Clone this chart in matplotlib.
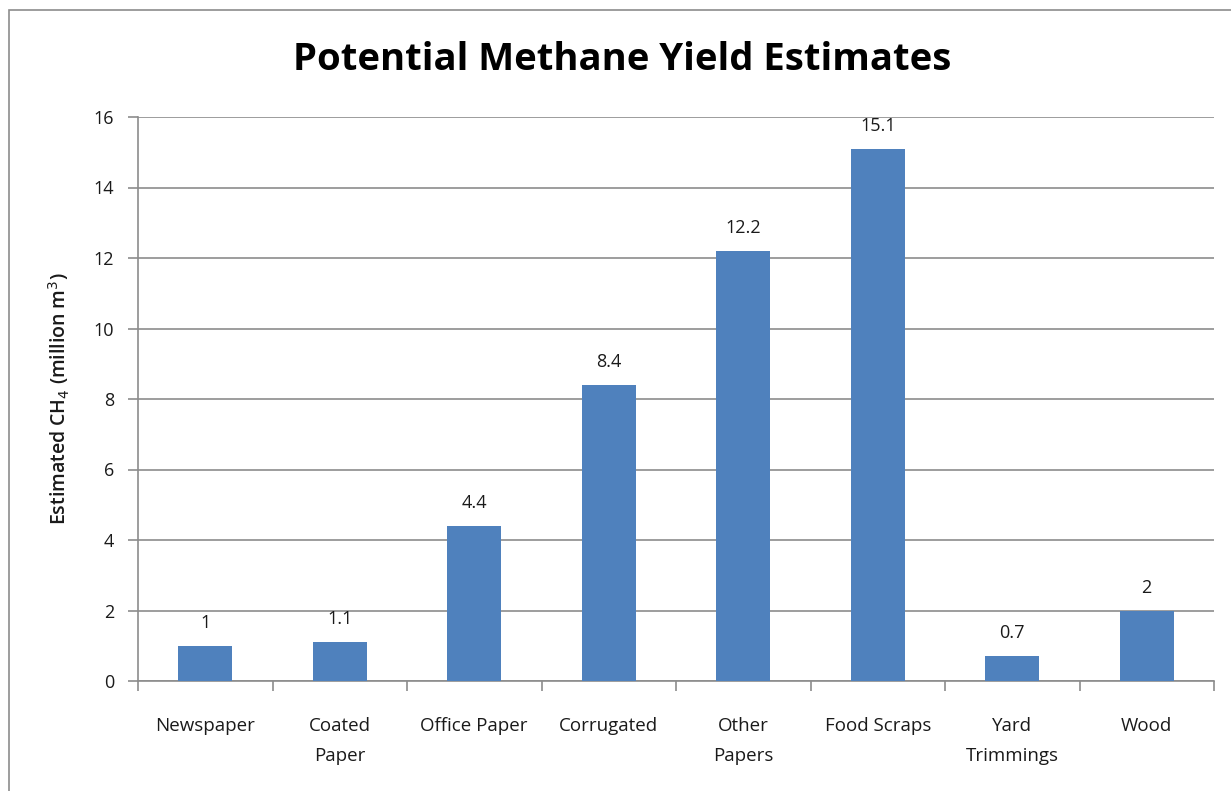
import matplotlib
matplotlib.use("Agg")
import matplotlib.pyplot as plt
from matplotlib.patches import Rectangle
import numpy as np

categories = ["Newspaper", "Coated\nPaper", "Office Paper", "Corrugated",
              "Other\nPapers", "Food Scraps", "Yard\nTrimmings", "Wood"]
values = [1, 1.1, 4.4, 8.4, 12.2, 15.1, 0.7, 2]
value_labels = ["1", "1.1", "4.4", "8.4", "12.2", "15.1", "0.7", "2"]
y_ticks = [0, 2, 4, 6, 8, 10, 12, 14, 16]

plt.rcParams["font.family"] = ["Open Sans", "DejaVu Sans"]

fig = plt.figure(figsize=(12.31, 7.91), dpi=100)
fig.patch.set_facecolor("white")

# chart-area border
fig.add_artist(Rectangle((9 / 1231, -0.05), 1.2, 1 - 10 / 791 + 0.05,
                         transform=fig.transFigure, fill=False,
                         edgecolor="#8c8c8c", linewidth=1.2))

ax = fig.add_axes([138 / 1231, 1 - 681 / 791, (1214 - 138) / 1231, (681 - 117) / 791])

x = np.arange(len(categories))
ax.bar(x, values, width=0.4, color="#4F81BD", zorder=3)

for xi, v, lab in zip(x, values, value_labels):
    ax.annotate(lab, (xi, v), xytext=(0, 10), textcoords="offset points",
                ha="center", va="bottom", fontsize=13, color="#1a1a1a")

ax.set_xlim(-0.5, len(categories) - 0.5)
ax.set_ylim(0, 16)
ax.set_yticks(y_ticks)
ax.set_yticklabels([str(t) for t in y_ticks], fontsize=13, color="#1a1a1a")
ax.yaxis.grid(True, color="#8c8c8c", linewidth=1.2, zorder=0)
ax.tick_params(axis="y", length=7, width=1.2, color="#8c8c8c", pad=10)

# category labels centered, ticks at category boundaries
ax.set_xticks(x)
ax.set_xticklabels(categories, fontsize=13.5, color="#1a1a1a", linespacing=1.85)
ax.tick_params(axis="x", which="major", length=0, pad=26)
ax.set_xticks(np.arange(len(categories) + 1) - 0.5, minor=True)
ax.tick_params(axis="x", which="minor", length=7, width=1.2, color="#8c8c8c")

for s in ["top", "right"]:
    ax.spines[s].set_visible(False)
for s in ["left", "bottom"]:
    ax.spines[s].set_color("#8c8c8c")
    ax.spines[s].set_linewidth(1.2)

ax.set_ylabel("Estimated CH$_4$ (million m$^3$)", fontsize=14, fontweight="semibold",
              color="#1a1a1a", labelpad=16)

fig.text(622 / 1231, 1 - 60 / 791, "Potential Methane Yield Estimates",
         ha="center", va="center", fontsize=27.5, fontweight="bold", color="#000000")

fig.savefig("out.png", dpi=100)
